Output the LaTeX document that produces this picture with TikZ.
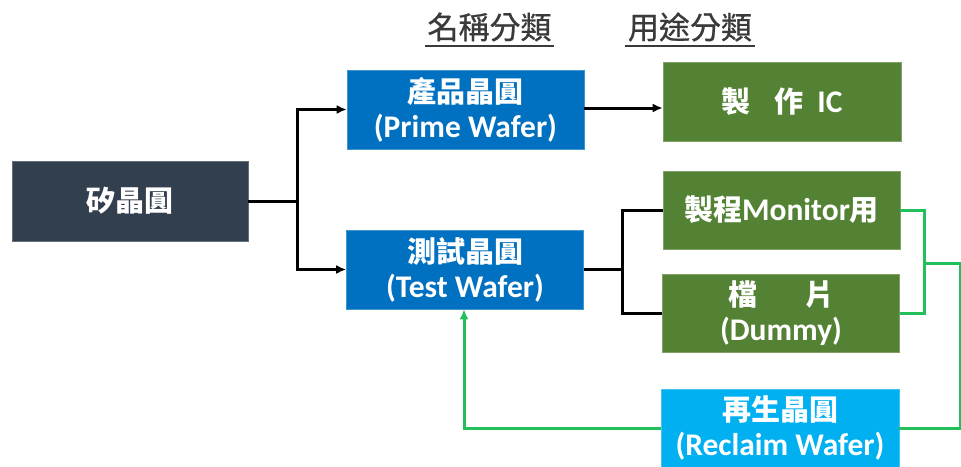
\documentclass[tikz,border=0pt]{standalone}
\usepackage{fontspec}
\setmainfont{Carlito}
\newfontfamily\cjk{Noto Sans CJK TC}
\newfontfamily\cjkh{Noto Sans CJK TC}[FakeBold=0.8]
\usetikzlibrary{arrows.meta}
\definecolor{navy}{HTML}{323F4F}
\definecolor{pblue}{HTML}{0070C0}
\definecolor{dgreen}{HTML}{548235}
\definecolor{lblue}{HTML}{00B0F0}
\definecolor{lgreen}{HTML}{22C05A}
\definecolor{hgray}{HTML}{3A3A3A}
\newcommand{\cj}[1]{{\cjk\fontsize{29}{35}\selectfont #1}}
\begin{document}
\begin{tikzpicture}[x=1pt,y=-1pt,
  box/.style={minimum width=237pt, minimum height=79pt, inner sep=0pt, text=white,
    font=\bfseries\fontsize{31.5}{35}\selectfont, align=center, draw=#1!75!white, line width=0.6pt, fill=#1},
  head/.style={text=hgray, font=\cjkh\fontsize{31}{36}\selectfont, inner sep=0pt, minimum width=129pt},
  blk/.style={line width=3pt, black},
  grn/.style={line width=3pt, lgreen},
  tip/.style={-{Latex[length=10pt,width=9pt]}}
]
\fill[white] (0,0) rectangle (961,466);
\useasboundingbox (0,0) rectangle (961,466);

% headers
\node[head] (h1) at (489.5,27) {名稱分類};
\node[head] (h2) at (690,27) {用途分類};
\draw[hgray, line width=2.8pt] (h1.west |- 0,46) -- (h1.east |- 0,46);
\draw[hgray, line width=2.8pt] (h2.west |- 0,46) -- (h2.east |- 0,46);

% nodes
\node[box=navy, minimum width=236pt, minimum height=80pt] (si) at (130,201) {\cj{矽晶圓}};
\node[box=pblue] (prime) at (465.5,109.5) {\cj{產品晶圓}\\(Prime Wafer)};
\node[box=pblue] (test) at (465,269.5) {\cj{測試晶圓}\\(Test Wafer)};
\node[box=dgreen, minimum width=238pt] (ic) at (782,101.5) {\cj{製}\hspace{24pt}\cj{作}\hspace{14pt}IC};
\node[box=dgreen, minimum height=78pt] (mon) at (781.5,210) {\cj{製程}Monitor\cj{用}};
\node[box=dgreen, minimum height=78pt] (dum) at (781,313) {\cj{檔}\hspace{48pt}\cj{片}\\(Dummy)};
\node[box=lblue, minimum width=238pt, minimum height=78pt] (rec) at (780,428) {\cj{再生晶圓}\\(Reclaim Wafer)};

% black connectors
\coordinate (j1) at (297,201);
\draw[blk] (si.east) -- (j1);
\draw[blk, tip] (j1) |- (prime.west);
\draw[blk, tip] (j1) |- (test.west);
\draw[blk, tip] (prime.east |- 0,108) -- (ic.west |- 0,108);
\coordinate (j2) at (622,269);
\draw[blk] (test.east |- j2) -- (j2);
\draw[blk] (j2) |- (mon.west);
\draw[blk] (j2) |- (dum.west);

% green connectors
\coordinate (g1) at (924,263);
\coordinate (g2) at (960,263);
\coordinate (g3) at (464,428);
\draw[grn] (mon.east) -| (g1) |- (dum.east);
\draw[grn] (g1) -- (g2) |- (rec.east);
\draw[grn, tip] (rec.west) -- (g3) -- (g3 |- test.south);
\end{tikzpicture}
\end{document}
